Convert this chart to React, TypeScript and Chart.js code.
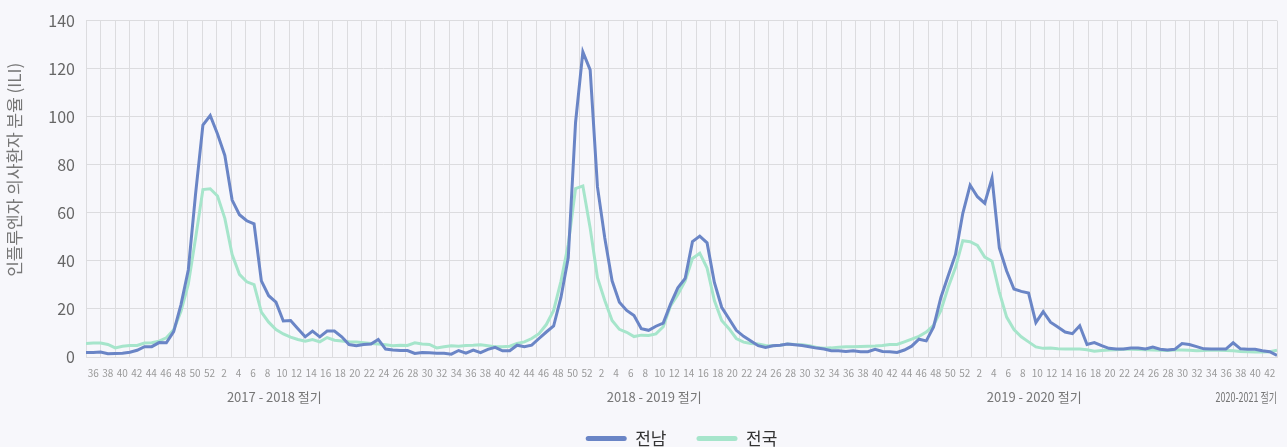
import React, { useEffect, useRef } from 'react';
import { Chart, registerables } from 'chart.js';

Chart.register(...registerables);

const FONT = "'Noto Sans CJK KR', 'Noto Sans', sans-serif";
const BG = '#f7f7fb';
const GRID = '#dcdcdf';
const BLUE = '#6a85c6';
const GREEN = '#a6e5cb';

const range = (a: number, b: number) => Array.from({ length: b - a + 1 }, (_, i) => String(a + i));

// week tick labels of the x axis (2017 w35 .. 2020 w43)
const weekTicks: string[] = [...range(35, 52), ...range(1, 52), ...range(1, 52), ...range(1, 43)];

// 전남 ILI, weekly, 2017 w36 .. 2020 w43
const jeonnam: number[] = [
  1.9, 1.9, 2.1, 1.4, 1.5, 1.6, 2.0, 2.8, 4.3, 4.3,
  6.0, 5.9, 10.6, 21.8, 36.2, 68.0, 96.5, 100.5, 92.8, 83.9,
  65.3, 59.2, 56.7, 55.4, 31.7, 25.5, 22.8, 15.0, 15.2, 11.8,
  8.4, 10.8, 8.4, 10.8, 10.8, 8.4, 5.2, 4.7, 5.2, 5.4,
  7.3, 3.3, 2.9, 2.7, 2.7, 1.5, 1.9, 1.8, 1.6, 1.6,
  1.2, 2.7, 1.6, 2.9, 1.8, 3.2, 4.0, 2.6, 2.6, 4.9,
  4.3, 4.9, 7.7, 10.4, 12.9, 24.8, 41.3, 97.6, 127.0, 119.5,
  70.8, 49.5, 31.7, 22.8, 19.4, 17.3, 11.8, 11.1, 12.8, 14.1,
  22.0, 28.8, 32.7, 48.0, 50.3, 47.5, 31.0, 20.7, 15.9, 11.1,
  8.6, 6.7, 4.7, 4.0, 4.7, 4.9, 5.4, 5.1, 4.8, 4.3,
  3.7, 3.3, 2.6, 2.6, 2.3, 2.6, 2.2, 2.2, 3.2, 2.3,
  2.2, 1.9, 2.9, 4.5, 7.4, 6.7, 12.5, 24.8, 33.8, 42.7,
  59.8, 71.5, 66.7, 64.0, 74.5, 45.4, 35.8, 28.3, 27.3, 26.6,
  14.3, 18.9, 14.5, 12.5, 10.4, 9.7, 13.0, 5.2, 6.0, 4.7,
  3.6, 3.3, 3.3, 3.7, 3.7, 3.3, 4.1, 3.2, 2.9, 3.2,
  5.6, 5.2, 4.3, 3.4, 3.3, 3.3, 3.3, 5.9, 3.4, 3.2,
  3.2, 2.6, 2.2, 0.7,
];

// 전국 ILI, weekly, 2017 w36 .. 2020 w43
const national: number[] = [
  5.6, 5.8, 5.8, 5.2, 3.8, 4.5, 4.8, 4.8, 5.8, 5.9,
  6.6, 8.0, 11.3, 19.0, 30.3, 49.5, 69.7, 70.0, 67.0, 57.7,
  42.6, 34.4, 31.3, 30.1, 18.7, 14.5, 11.4, 9.6, 8.3, 7.3,
  6.6, 7.3, 6.3, 8.1, 7.0, 6.7, 6.3, 6.2, 5.9, 5.6,
  5.4, 5.1, 4.7, 4.9, 4.8, 5.9, 5.4, 5.2, 3.8, 4.3,
  4.7, 4.5, 4.8, 4.9, 5.1, 4.7, 4.3, 4.3, 4.5, 5.6,
  6.3, 7.7, 9.7, 13.5, 19.4, 31.5, 46.8, 70.1, 71.2, 53.7,
  33.0, 23.5, 15.2, 11.5, 10.3, 8.5, 9.1, 9.0, 9.6, 12.6,
  21.3, 26.0, 31.7, 41.0, 43.2, 37.0, 23.5, 15.2, 11.8, 7.7,
  6.2, 5.6, 5.4, 4.8, 4.7, 4.9, 5.4, 5.2, 5.1, 4.7,
  4.0, 3.6, 3.8, 4.1, 4.3, 4.3, 4.4, 4.5, 4.6, 4.8,
  5.2, 5.2, 6.3, 7.4, 8.6, 10.4, 13.2, 19.4, 29.0, 37.2,
  48.4, 48.0, 46.4, 41.6, 39.9, 27.0, 16.6, 11.4, 8.4, 6.3,
  4.2, 3.6, 3.7, 3.4, 3.3, 3.3, 3.3, 3.0, 2.4, 2.7,
  2.9, 3.0, 3.2, 3.2, 3.1, 3.0, 2.9, 2.8, 2.7, 2.9,
  2.9, 2.8, 2.6, 2.7, 2.9, 2.8, 2.7, 2.6, 2.3, 2.2,
  2.1, 2.1, 2.2, 2.8,
];

const seriesNames = ['전남', '전국'];
const seasonNames = ['2017 - 2018 절기', '2018 - 2019 절기', '2019 - 2020 절기', '2020-2021 절기'];
const seasonStart = [0, 52, 104, 156];
const seasonEnd = [51, 103, 155, 163];
const yTitle = '인플루엔자 의사환자 분율 (ILI)';

const annotationPlugin = {
  id: 'seasonLabels',
  afterDraw(chart: any) {
    const { ctx, chartArea } = chart;
    const xs = chart.scales.xd;
    const step = xs.getPixelForValue(1) - xs.getPixelForValue(0);
    ctx.save();
    ctx.font = `13px ${FONT}`;
    ctx.fillStyle = '#767676';
    ctx.textAlign = 'center';
    ctx.textBaseline = 'middle';
    seasonNames.forEach((name, i) => {
      const maxW = (seasonEnd[i] - seasonStart[i] + 1.4) * step;
      const w = Math.min(ctx.measureText(name).width, maxW);
      let cx = xs.getPixelForValue((seasonStart[i] + seasonEnd[i]) / 2) + 2;
      if (cx + w / 2 > chartArea.right) cx = chartArea.right - w / 2;
      ctx.fillText(name, cx, chartArea.bottom + 40, maxW);
    });
    ctx.translate(15, (chartArea.top + chartArea.bottom) / 2 - 19);
    ctx.rotate(-Math.PI / 2);
    ctx.font = `17px ${FONT}`;
    ctx.fillStyle = '#777';
    ctx.fillText(yTitle, 0, 0);
    ctx.restore();
  },
};

export default function App() {
  const canvasRef = useRef<HTMLCanvasElement | null>(null);

  useEffect(() => {
    document.body.style.margin = '0';
    document.body.style.background = BG;
    Chart.defaults.font.family = FONT;
    const canvas = canvasRef.current;
    if (!canvas) return;
    const chart = new Chart(canvas, {
      type: 'line',
      data: {
        labels: weekTicks,
        datasets: [
          {
            label: seriesNames[0],
            data: jeonnam.map((v, i) => ({ x: i, y: v })),
            borderColor: BLUE,
            backgroundColor: BLUE,
            borderWidth: 3,
            pointRadius: 0,
            pointHoverRadius: 0,
            tension: 0,
            fill: false,
            xAxisID: 'xd',
          },
          {
            label: seriesNames[1],
            data: national.map((v, i) => ({ x: i, y: v })),
            borderColor: GREEN,
            backgroundColor: GREEN,
            borderWidth: 3,
            pointRadius: 0,
            pointHoverRadius: 0,
            tension: 0,
            fill: false,
            xAxisID: 'xd',
          },
        ],
      },
      options: {
        animation: false,
        responsive: false,
        events: [],
        layout: { padding: { top: 17, right: 8, bottom: -10, left: 0 } },
        scales: {
          x: {
            type: 'category',
            labels: weekTicks,
            offset: false,
            position: 'bottom',
            grid: {
              color: (c: any) => (c.index % 2 === 0 ? GRID : 'rgba(0,0,0,0)'),
              drawTicks: false,
              lineWidth: 1,
            },
            border: { color: GRID },
            ticks: {
              autoSkip: false,
              maxRotation: 0,
              minRotation: 0,
              color: '#9a9a9a',
              font: { size: 10 },
              padding: 10,
              callback: (_v: any, i: number) => (i % 2 === 1 ? weekTicks[i] : ''),
            },
            afterFit: (s: any) => {
              s.height = 43;
            },
          },
          xd: {
            type: 'linear',
            display: false,
            min: 0,
            max: jeonnam.length - 1,
          },
          y: {
            min: 0,
            max: 140,
            ticks: { stepSize: 20, color: '#666', font: { size: 16 }, padding: 11 },
            grid: { color: GRID, drawTicks: false },
            border: { display: false },
            afterFit: (s: any) => {
              s.width = 86;
            },
          },
        },
        plugins: {
          tooltip: { enabled: false },
          legend: {
            position: 'bottom',
            fullSize: false,
            labels: {
              boxWidth: 41,
              boxHeight: 5,
              useBorderRadius: true,
              borderRadius: 2.5,
              padding: 30,
              color: '#333',
              font: { size: 17 },
              generateLabels: (ch: any) =>
                Chart.defaults.plugins.legend.labels
                  .generateLabels(ch)
                  .map((l: any) => ({ ...l, lineWidth: 0 })),
            },
          },
        },
      } as any,
      plugins: [annotationPlugin],
    });
    return () => chart.destroy();
  }, []);

  return (
    <div style={{ width: 1287, height: 447, background: BG, overflow: 'hidden' }}>
      <canvas ref={canvasRef} width={1287} height={447} style={{ display: 'block' }} />
    </div>
  );
}
